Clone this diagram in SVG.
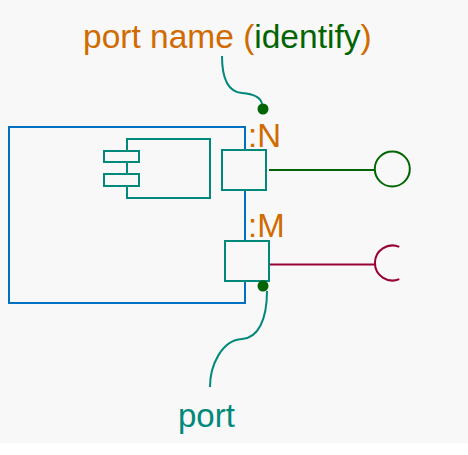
<svg xmlns="http://www.w3.org/2000/svg" width="468" height="455" viewBox="0 0 468 455">
<style>
text{font-family:"Liberation Sans",Arial,sans-serif;font-size:33px}
.or{fill:#d06b00}
.gr{fill:#006400}
.tl{fill:#00897b}
.box{fill:#f8f8f8;stroke:#00897b;stroke-width:2}
.lead{fill:none;stroke:#00897b;stroke-width:2}
.dot{fill:#006400}
</style>
<rect x="0" y="0" width="468" height="443" fill="#f8f8f8"/>
<g id="component">
<rect x="9" y="127" width="236" height="176" fill="none" stroke="#0070c0" stroke-width="2"/>
<rect class="box" x="127" y="139" width="83" height="59"/>
<rect class="box" x="104" y="151" width="35" height="11"/>
<rect class="box" x="104" y="174" width="35" height="12"/>
</g>
<g id="connectors">
<line x1="269" y1="170" x2="375" y2="170" stroke="#006400" stroke-width="2"/>
<line x1="269" y1="264.5" x2="375" y2="264.5" stroke="#990033" stroke-width="2"/>
<path class="lead" d="M222,56 C222,78 228,92 242,93 C254,94 261,98 262,104"/>
<path class="lead" d="M267,291 C267,320 258,338 242,339 C222,340 210,365 210,387"/>
</g>
<g id="portN">
<rect class="box" x="222" y="150" width="44" height="40"/>
<text x="248" y="147" class="or">:N</text>
<circle class="dot" cx="263" cy="109" r="5.5"/>
</g>
<g id="portM">
<rect class="box" x="225" y="241" width="44" height="40"/>
<text x="248" y="237" class="or">:M</text>
<circle class="dot" cx="263" cy="286" r="5.5"/>
</g>
<g id="provided">
<circle cx="392.3" cy="169" r="17.5" fill="none" stroke="#006400" stroke-width="2"/>
</g>
<g id="required">
<path d="M399.3,246.9 A17.5,17.5 0 1 0 399.3,279.1" fill="none" stroke="#990033" stroke-width="2"/>
</g>
<g id="labels">
<text x="83" y="48" class="or" style="font-size:33.5px">port name (<tspan class="gr">identify</tspan>)</text>
<text x="178" y="427" class="tl">port</text>
</g>
</svg>
